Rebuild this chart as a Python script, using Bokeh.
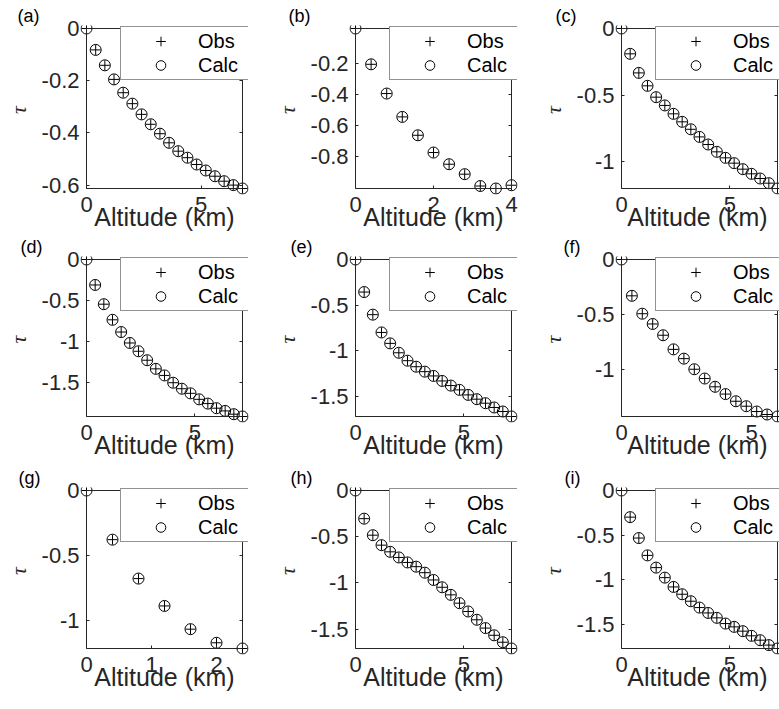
from bokeh.plotting import figure
from bokeh.layouts import column, row
from bokeh.models import (Range1d, FixedTicker, CustomJSTickFormatter, LinearAxis,
                          Legend, LegendItem)
from bokeh.embed import file_html
from bokeh.resources import INLINE

# ---------------------------------------------------------------- data
panel_tags = ["(a)", "(b)", "(c)", "(d)", "(e)", "(f)", "(g)", "(h)", "(i)"]

alt_a = [0.0, 0.4, 0.8, 1.2, 1.6, 2.0, 2.4, 2.8, 3.2, 3.6, 4.0, 4.4, 4.8, 5.2, 5.6, 6.0, 6.4, 6.8]
obs_a = [0.0, -0.082, -0.141, -0.195, -0.246, -0.288, -0.329, -0.367, -0.403, -0.438, -0.470,
         -0.495, -0.521, -0.544, -0.566, -0.585, -0.600, -0.613]
calc_a = [0.0, -0.082, -0.141, -0.195, -0.246, -0.288, -0.329, -0.367, -0.403, -0.438, -0.470,
          -0.495, -0.521, -0.544, -0.566, -0.585, -0.600, -0.613]

alt_b = [0.0, 0.4, 0.8, 1.2, 1.6, 2.0, 2.4, 2.8, 3.2, 3.6, 4.0]
obs_b = [0.025, -0.205, -0.393, -0.543, -0.661, -0.772, -0.847, -0.911, -0.987, -1.003, -0.982]
calc_b = [0.025, -0.205, -0.393, -0.543, -0.661, -0.772, -0.847, -0.911, -0.987, -1.003, -0.982]

alt_c = [0.0, 0.4, 0.8, 1.2, 1.6, 2.0, 2.4, 2.8, 3.2, 3.6, 4.0, 4.4, 4.8, 5.2, 5.6, 6.0, 6.4, 6.8, 7.2]
obs_c = [0.0, -0.19, -0.333, -0.43, -0.515, -0.577, -0.64, -0.70, -0.756, -0.813, -0.87,
         -0.925, -0.97, -1.01, -1.055, -1.09, -1.125, -1.16, -1.2]
calc_c = [0.0, -0.19, -0.333, -0.43, -0.515, -0.577, -0.64, -0.70, -0.756, -0.813, -0.87,
          -0.925, -0.97, -1.01, -1.055, -1.09, -1.125, -1.16, -1.2]

alt_d = [0.0, 0.4, 0.8, 1.2, 1.6, 2.0, 2.4, 2.8, 3.2, 3.6, 4.0, 4.4, 4.8, 5.2, 5.6, 6.0, 6.4, 6.8, 7.2]
obs_d = [0.0, -0.31, -0.544, -0.734, -0.883, -1.016, -1.117, -1.226, -1.331, -1.411, -1.5,
         -1.573, -1.629, -1.702, -1.754, -1.81, -1.843, -1.883, -1.911]
calc_d = [0.0, -0.31, -0.544, -0.734, -0.883, -1.016, -1.117, -1.226, -1.331, -1.411, -1.5,
          -1.573, -1.629, -1.702, -1.754, -1.81, -1.843, -1.883, -1.911]

alt_e = [0.0, 0.4, 0.8, 1.2, 1.6, 2.0, 2.4, 2.8, 3.2, 3.6, 4.0, 4.4, 4.8, 5.2, 5.6, 6.0, 6.4, 6.8, 7.2]
obs_e = [0.0, -0.357, -0.605, -0.80, -0.92, -1.023, -1.11, -1.176, -1.23, -1.277, -1.332,
         -1.383, -1.43, -1.485, -1.532, -1.576, -1.623, -1.667, -1.722]
calc_e = [0.0, -0.357, -0.605, -0.80, -0.92, -1.023, -1.11, -1.176, -1.23, -1.277, -1.332,
          -1.383, -1.43, -1.485, -1.532, -1.576, -1.623, -1.667, -1.722]

alt_f = [0.0, 0.4, 0.8, 1.2, 1.6, 2.0, 2.4, 2.8, 3.2, 3.6, 4.0, 4.4, 4.8, 5.2, 5.6, 6.0]
obs_f = [0.0, -0.329, -0.491, -0.584, -0.686, -0.814, -0.898, -0.994, -1.078, -1.153, -1.219,
         -1.284, -1.329, -1.377, -1.404, -1.422]
calc_f = [0.0, -0.329, -0.491, -0.584, -0.686, -0.814, -0.898, -0.994, -1.078, -1.153, -1.219,
          -1.284, -1.329, -1.377, -1.404, -1.422]

alt_g = [0.0, 0.4, 0.8, 1.2, 1.6, 2.0, 2.4]
obs_g = [0.0, -0.379, -0.679, -0.89, -1.069, -1.174, -1.218]
calc_g = [0.0, -0.379, -0.679, -0.89, -1.069, -1.174, -1.218]

alt_h = [0.0, 0.4, 0.8, 1.2, 1.6, 2.0, 2.4, 2.8, 3.2, 3.6, 4.0, 4.4, 4.8, 5.2, 5.6, 6.0, 6.4, 6.8, 7.2]
obs_h = [0.0, -0.305, -0.484, -0.592, -0.664, -0.725, -0.779, -0.825, -0.89, -0.969, -1.048,
         -1.13, -1.22, -1.31, -1.4, -1.49, -1.568, -1.643, -1.711]
calc_h = [0.0, -0.305, -0.484, -0.592, -0.664, -0.725, -0.779, -0.825, -0.89, -0.969, -1.048,
          -1.13, -1.22, -1.31, -1.4, -1.49, -1.568, -1.643, -1.711]

alt_i = [0.0, 0.4, 0.8, 1.2, 1.6, 2.0, 2.4, 2.8, 3.2, 3.6, 4.0, 4.4, 4.8, 5.2, 5.6, 6.0, 6.4, 6.8, 7.2]
obs_i = [0.0, -0.298, -0.532, -0.726, -0.863, -0.975, -1.079, -1.161, -1.239, -1.31, -1.37,
         -1.425, -1.489, -1.526, -1.574, -1.626, -1.675, -1.73, -1.768]
calc_i = [0.0, -0.298, -0.532, -0.726, -0.863, -0.975, -1.079, -1.161, -1.239, -1.31, -1.37,
          -1.425, -1.489, -1.526, -1.574, -1.626, -1.675, -1.73, -1.768]

xticks_a = [0, 5]
xticks_b = [0, 2, 4]
xticks_c = [0, 5]
xticks_d = [0, 5]
xticks_e = [0, 5]
xticks_f = [0, 5]
xticks_g = [0, 1, 2]
xticks_h = [0, 5]
xticks_i = [0, 5]

yticks_a = [0, -0.2, -0.4, -0.6]
yticks_b = [-0.2, -0.4, -0.6, -0.8]
yticks_c = [0, -0.5, -1]
yticks_d = [0, -0.5, -1, -1.5]
yticks_e = [0, -0.5, -1, -1.5]
yticks_f = [0, -0.5, -1]
yticks_g = [0, -0.5, -1]
yticks_h = [0, -0.5, -1, -1.5]
yticks_i = [0, -0.5, -1, -1.5]

panels = [
    (alt_a, obs_a, calc_a, xticks_a, yticks_a),
    (alt_b, obs_b, calc_b, xticks_b, yticks_b),
    (alt_c, obs_c, calc_c, xticks_c, yticks_c),
    (alt_d, obs_d, calc_d, xticks_d, yticks_d),
    (alt_e, obs_e, calc_e, xticks_e, yticks_e),
    (alt_f, obs_f, calc_f, xticks_f, yticks_f),
    (alt_g, obs_g, calc_g, xticks_g, yticks_g),
    (alt_h, obs_h, calc_h, xticks_h, yticks_h),
    (alt_i, obs_i, calc_i, xticks_i, yticks_i),
]

# ---------------------------------------------------------------- layout / style
# The box of each panel is drawn by axes pinned to the data limits; the plot frame
# is a few pixels larger so that markers sitting on the box edge are drawn whole.
# A second pair of axes on the frame edge carries the tick labels and titles.
PAD_L, PAD_B, PAD_T = 6, 6, 3
PAD_R = [6, 6, 2]
COL_W = [270, 258, 251]
BOX_L = [86, 85, 93]          # box left edge inside each column's canvas
BOX_W = 156
ROW_TOP = [25, 20, 25]        # canvas border above each row's frame
ROW_BOT = [40, 40, 50]        # canvas border below each row's frame
BOX_H = [160, 157, 158]
TAG_DX = [-69, -67, -66, -66, -65, -58, -68, -65, -57]
LEG_W = 122
LEG_H = 52

INK = "#262626"
SANS = "Liberation Sans"
fmt = CustomJSTickFormatter(code="return String(tick)")
blank = CustomJSTickFormatter(code="return ''")


def quiet(ax):
    ax.major_tick_in = 0
    ax.major_tick_out = 0
    ax.minor_tick_in = 0
    ax.minor_tick_out = 0


def box_edge(ticks, loc, bounds):
    ax = LinearAxis(ticker=FixedTicker(ticks=ticks), formatter=blank,
                    fixed_location=loc, bounds=bounds)
    quiet(ax)
    ax.major_tick_in = 3
    ax.axis_line_color = INK
    ax.axis_line_width = 1
    ax.major_tick_line_color = INK
    ax.major_label_text_font_size = "0px"
    ax.major_label_standoff = 0
    return ax


def label_axis(ticks, standoff):
    ax = LinearAxis(ticker=FixedTicker(ticks=ticks), formatter=fmt)
    quiet(ax)
    ax.axis_line_color = None
    ax.major_tick_line_color = None
    ax.major_label_text_font = SANS
    ax.major_label_text_font_size = "22px"
    ax.major_label_text_color = INK
    ax.major_label_standoff = standoff
    return ax


def make_panel(k):
    alt, obs, calc, xt, yt = panels[k]
    r, c = divmod(k, 3)
    allv = obs + calc
    x0, x1 = min(alt), max(alt)
    y0, y1 = min(allv), max(allv)
    sx = (x1 - x0) / BOX_W
    sy = (y1 - y0) / BOX_H[r]
    pr = PAD_R[c]
    fl = BOX_L[c] - PAD_L
    fw = BOX_W + PAD_L + pr
    fh = BOX_H[r] + PAD_T + PAD_B

    p = figure(width=COL_W[c], height=ROW_TOP[r] + fh + ROW_BOT[r],
               frame_width=fw, frame_height=fh,
               x_range=Range1d(x0 - PAD_L * sx, x1 + pr * sx),
               y_range=Range1d(y0 - PAD_B * sy, y1 + PAD_T * sy),
               output_backend="svg", toolbar_location=None,
               x_axis_location=None, y_axis_location=None,
               min_border_left=fl, min_border_right=COL_W[c] - fl - fw,
               min_border_top=ROW_TOP[r], min_border_bottom=ROW_BOT[r])
    p.xgrid.visible = False
    p.ygrid.visible = False
    p.outline_line_color = None
    p.background_fill_color = "white"
    p.border_fill_color = "white"

    p.title.text = panel_tags[k]
    p.title.align = "left"
    p.title.offset = TAG_DX[k] + PAD_L
    p.title.standoff = 0
    p.title.text_font = SANS
    p.title.text_font_size = "18px"
    p.title.text_font_style = "normal"
    p.title.text_color = "black"

    # box edges with inward ticks
    p.add_layout(box_edge(xt, y0, (x0, x1)), "below")
    p.add_layout(box_edge(yt, x0, (y0, y1)), "left")
    p.add_layout(box_edge(yt, x1, (y0, y1)), "right")
    p.add_layout(box_edge(xt, y1, (x0, x1)), "above")

    # tick labels and axis titles
    xl = label_axis(xt, 2)
    xl.axis_label = "Altitude (km)"
    xl.axis_label_text_font = SANS
    xl.axis_label_text_font_size = "25px"
    xl.axis_label_text_font_style = "normal"
    xl.axis_label_text_color = INK
    xl.axis_label_standoff = -12
    p.add_layout(xl, "below")

    yl = label_axis(yt, 1)
    yl.axis_label = "τ"
    yl.axis_label_text_font = "Liberation Serif"
    yl.axis_label_text_font_size = "22px"
    yl.axis_label_text_font_style = "italic"
    yl.axis_label_text_color = INK
    yl.axis_label_standoff = 8
    p.add_layout(yl, "left")

    r_obs = p.scatter(alt, obs, marker="cross", size=10, line_color="black", line_width=1)
    r_calc = p.scatter(alt, calc, marker="circle", size=11, fill_color=None,
                       line_color="black", line_width=1)

    legend = Legend(items=[LegendItem(label="Obs", renderers=[r_obs]),
                           LegendItem(label="Calc", renderers=[r_calc])],
                    location=(PAD_L + BOX_W - LEG_W, PAD_B + BOX_H[r] - LEG_H),
                    orientation="vertical",
                    margin=0, padding=2, spacing=0,
                    glyph_width=75, glyph_height=24, label_height=24,
                    label_standoff=-5, label_width=48,
                    label_text_font=SANS, label_text_font_size="20px", label_text_color="black",
                    border_line_color=INK, border_line_width=1,
                    background_fill_color="white", background_fill_alpha=1.0)
    p.add_layout(legend)
    return p


figs = [make_panel(k) for k in range(9)]
layout = column(row(*figs[0:3]), row(*figs[3:6]), row(*figs[6:9]))

open("out.html", "w").write(file_html(layout, INLINE))
